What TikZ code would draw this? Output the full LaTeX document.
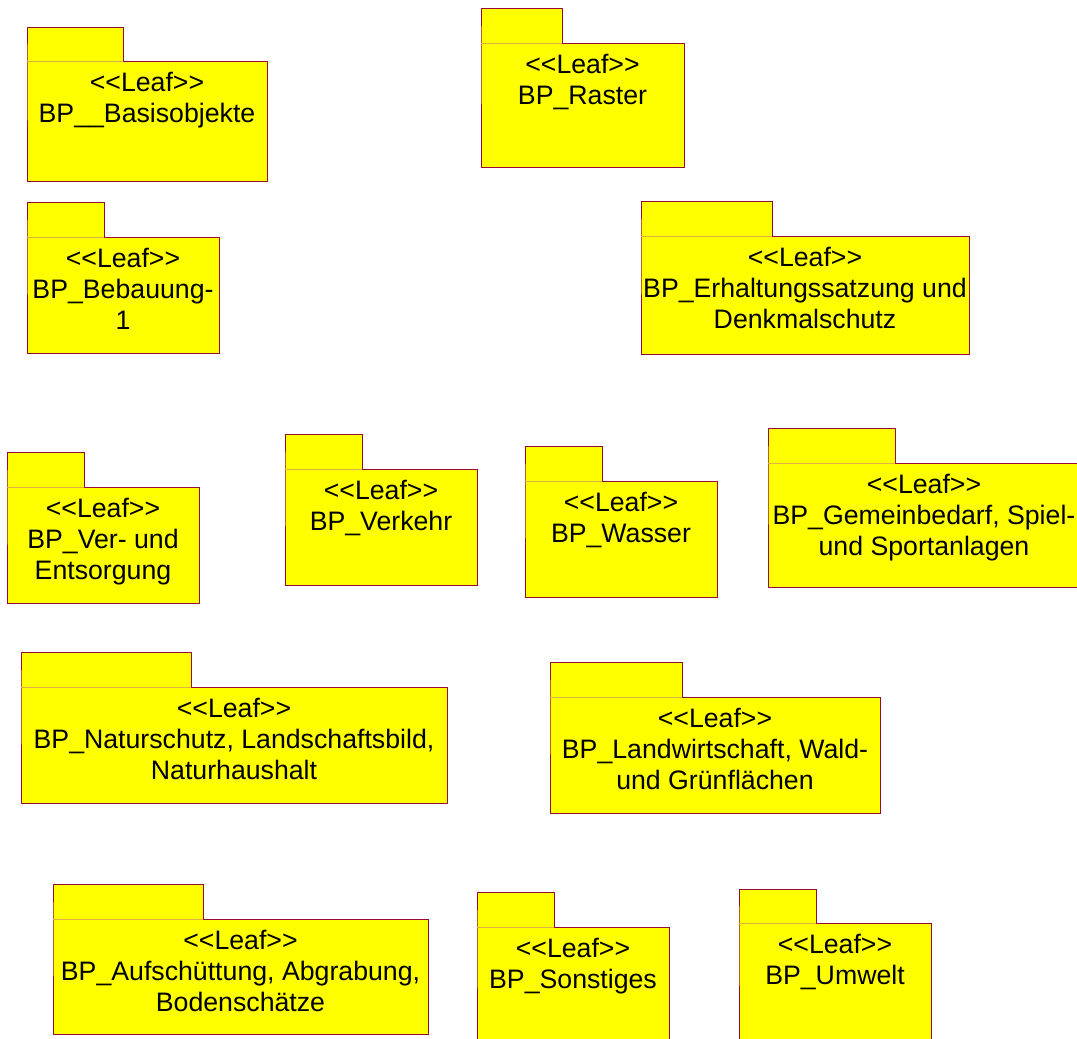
\documentclass[tikz,border=0pt]{standalone}
\usepackage{fontspec}
\setmainfont{Liberation Sans}
\definecolor{pkgyellow}{RGB}{255,255,0}
\definecolor{pkgborder}{RGB}{150,10,55}
\definecolor{pkgsep}{RGB}{225,175,70}
\tikzset{
  pkgfill/.style={fill=pkgyellow},
  pkgline/.style={draw=pkgborder,line width=0.9pt,line join=miter},
  sepline/.style={draw=pkgsep,line width=0.9pt},
  pkgtext/.style={anchor=north,inner sep=0pt,align=center,text=black,
    font=\fontsize{26.7}{31}\selectfont}
}
% #1 name, #2 left x, #3 tab top, #4 tab right, #5 body top, #6 body right, #7 body bottom, #8 text
\newcommand\umlpkg[8]{%
  \fill[pkgfill] (#2,#3) rectangle (#4,#5);
  \fill[pkgfill] (#2,#5) rectangle (#6,#7);
  \draw[pkgline] (#2,#5) -- (#2,#3) -- (#4,#3) -- (#4,#5) -- (#6,#5) -- (#6,#7) -- (#2,#7) -- cycle;
  \draw[sepline] (#2,#5) -- (#4,#5);
  \node[pkgtext] (#1) at ({(#2+#6)/2},{#5+10.5}) {#8};
}
\begin{document}
\begin{tikzpicture}[x=1pt,y=-1pt]
\useasboundingbox (0,0) rectangle (1077,1039);
\clip (0,0) rectangle (1077,1039);
\fill[white] (0,0) rectangle (1077,1039);
\umlpkg{basis}{27}{27}{123}{61}{267}{181}{<{}<Leaf>{}>\\BP\_\_Basisobjekte}
\umlpkg{raster}{481}{8}{562}{43}{684}{167}{<{}<Leaf>{}>\\BP\_Raster}
\umlpkg{bebauung}{27}{202}{104}{237}{219}{353}{<{}<Leaf>{}>\\BP\_Bebauung-\\1}
\umlpkg{erhaltung}{641}{201}{772}{236}{969}{354}{<{}<Leaf>{}>\\BP\_Erhaltungssatzung und\\Denkmalschutz}
\umlpkg{ver}{7}{452}{84}{487}{199}{603}{<{}<Leaf>{}>\\BP\_Ver- und\\Entsorgung}
\umlpkg{verkehr}{285}{434}{362}{469}{477}{585}{<{}<Leaf>{}>\\BP\_Verkehr}
\umlpkg{wasser}{525}{446}{602}{481}{717}{597}{<{}<Leaf>{}>\\BP\_Wasser}
\umlpkg{gemein}{768}{428}{895}{463}{1080}{587}{<{}<Leaf>{}>\\BP\_Gemeinbedarf, Spiel-\\und Sportanlagen}
\umlpkg{natur}{21}{652}{191}{687}{447}{803}{<{}<Leaf>{}>\\BP\_Naturschutz, Landschaftsbild,\\Naturhaushalt}
\umlpkg{landw}{550}{662}{682}{697}{880}{813}{<{}<Leaf>{}>\\BP\_Landwirtschaft, Wald-\\und Grünflächen}
\umlpkg{aufsch}{53}{884}{203}{919}{428}{1034}{<{}<Leaf>{}>\\BP\_Aufschüttung, Abgrabung,\\Bodenschätze}
\umlpkg{sonst}{477}{892}{554}{927}{669}{1050}{<{}<Leaf>{}>\\BP\_Sonstiges}
\umlpkg{umwelt}{739}{889}{816}{923}{931}{1050}{<{}<Leaf>{}>\\BP\_Umwelt}
\end{tikzpicture}
\end{document}
